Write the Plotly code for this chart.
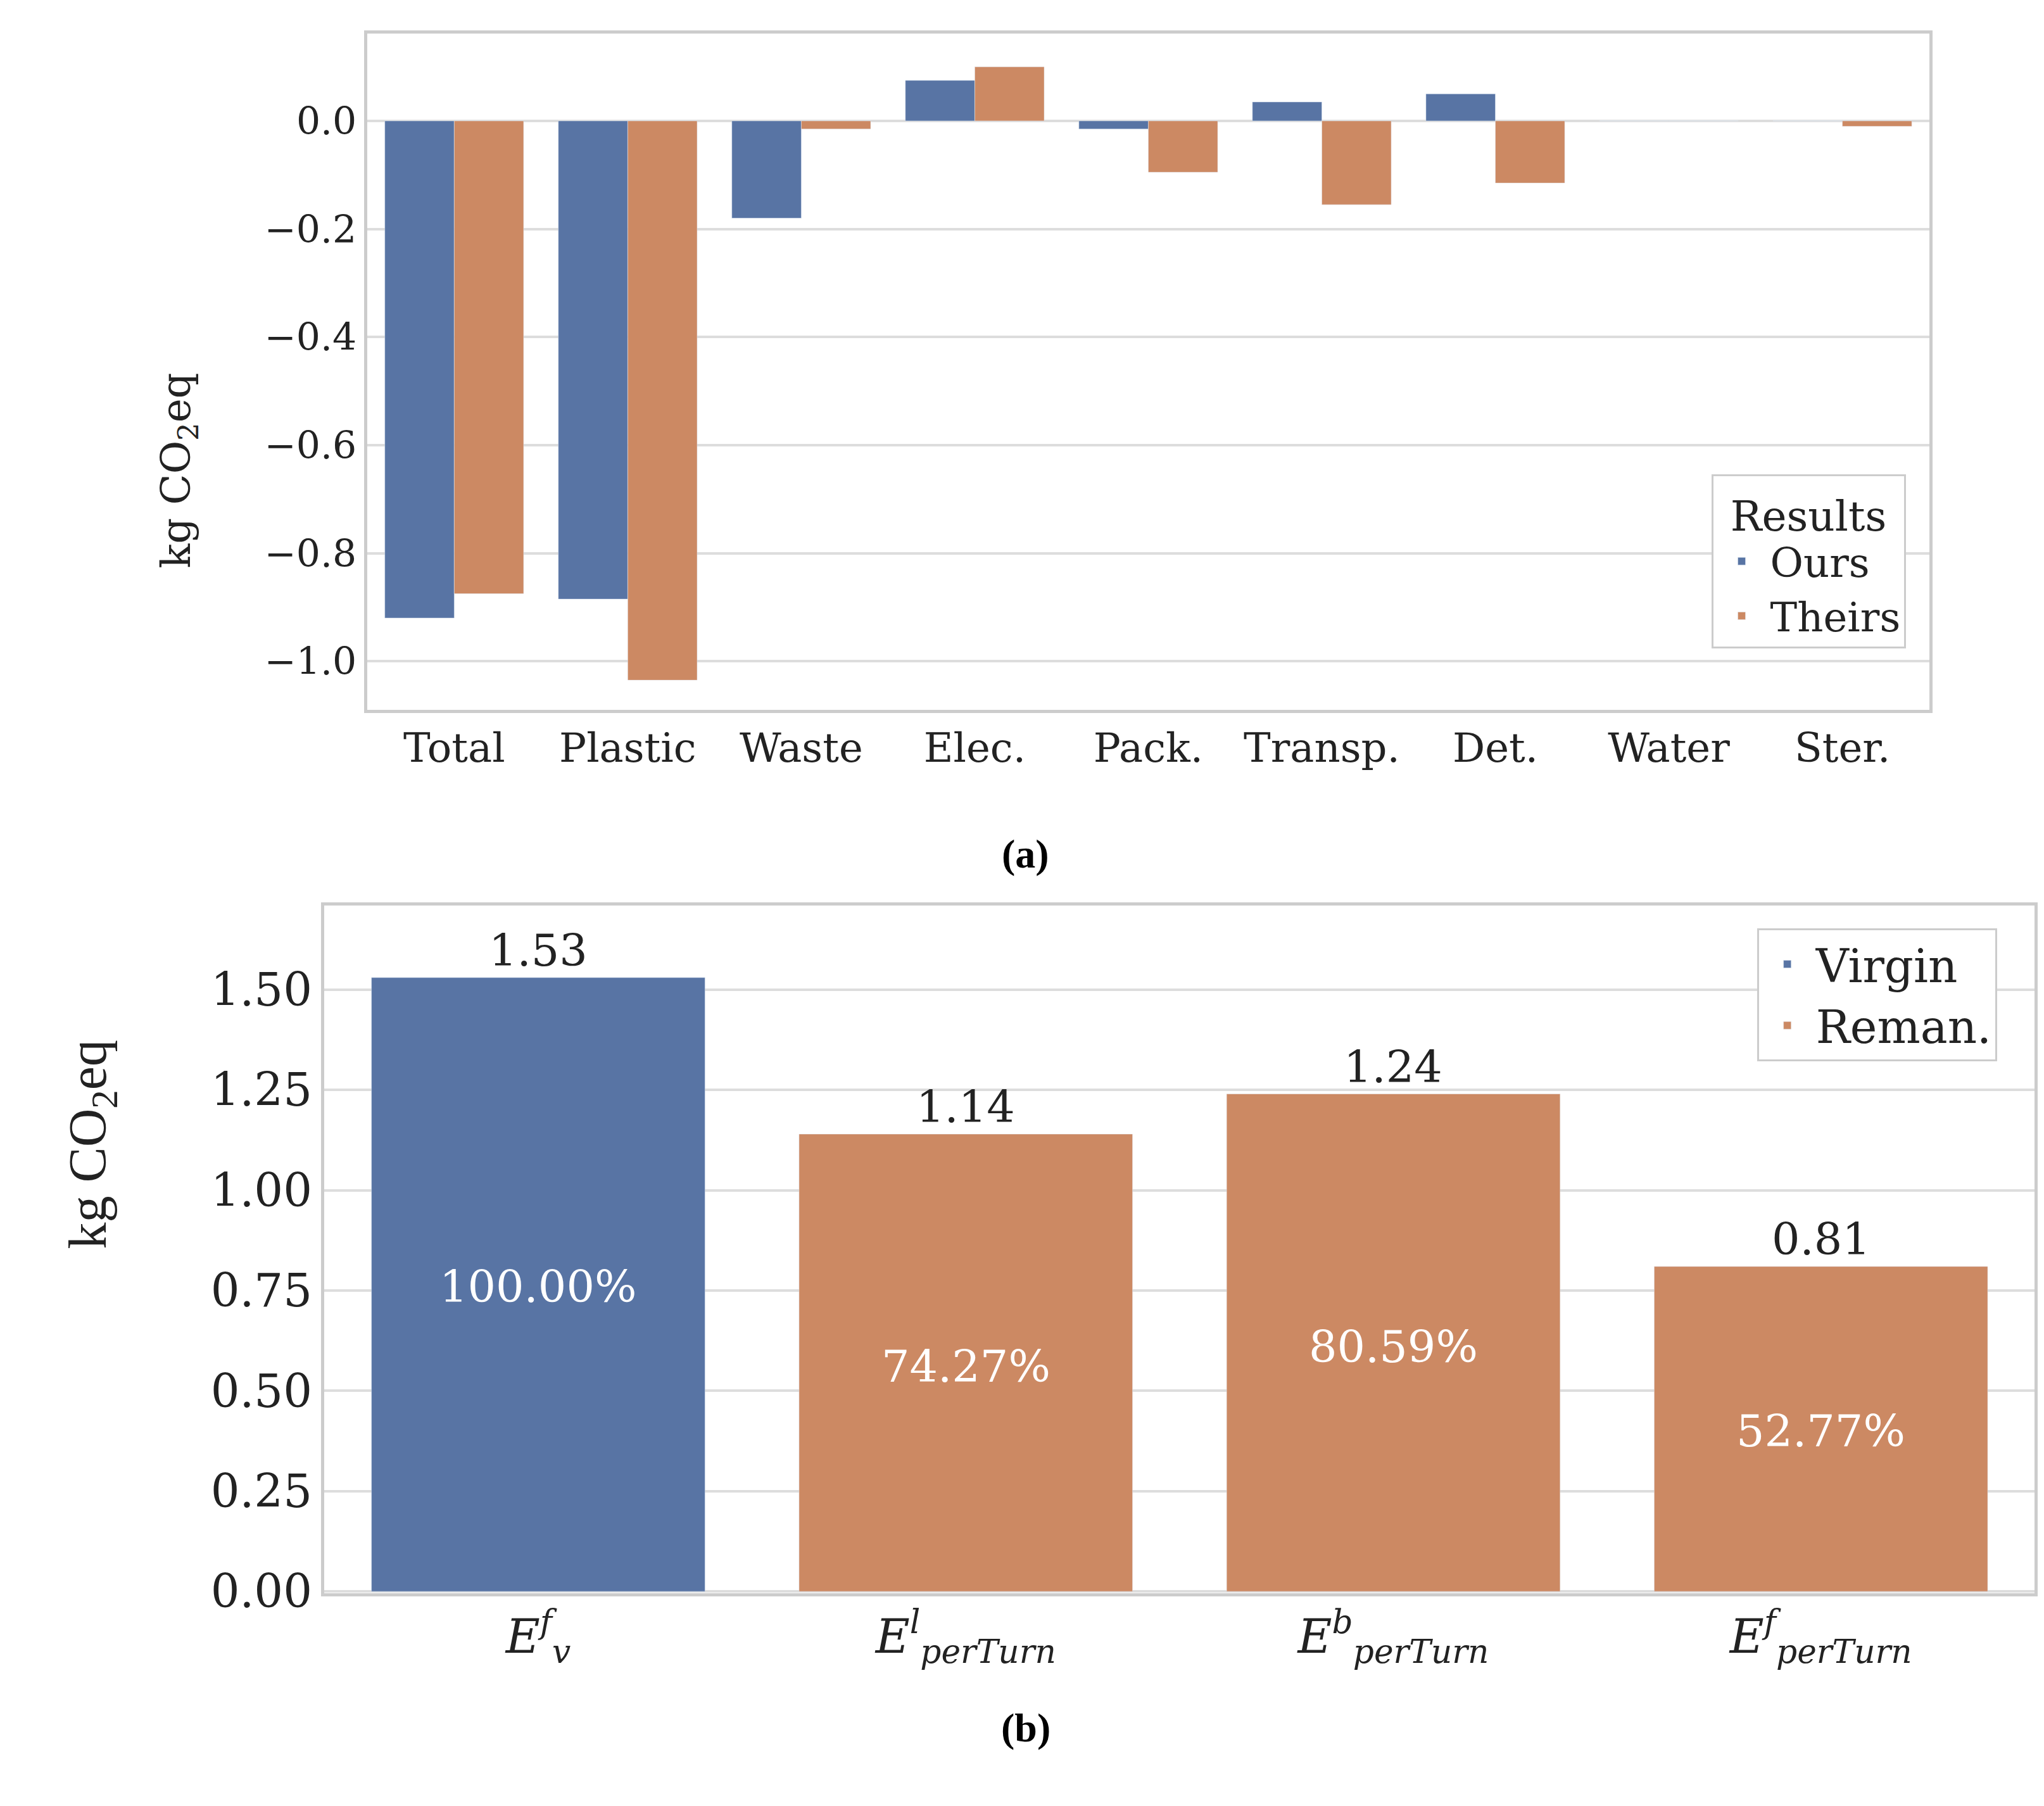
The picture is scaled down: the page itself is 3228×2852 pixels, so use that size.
import plotly.graph_objects as go

W, H = 3228, 2852

cats_a = ["Total", "Plastic", "Waste", "Elec.", "Pack.", "Transp.", "Det.", "Water", "Ster."]
ours = [-0.92, -0.885, -0.18, 0.075, -0.015, 0.035, 0.05, 0.0, 0.0]
theirs = [-0.875, -1.035, -0.015, 0.10, -0.095, -0.155, -0.115, 0.0, -0.01]
ticks_a = [0.0, -0.2, -0.4, -0.6, -0.8, -1.0]

cats_b = ["<i>E</i><sup><i>f</i></sup><sub><i>v</i></sub>",
          "<i>E</i><sup><i>l</i></sup><sub><i>perTurn</i></sub>",
          "<i>E</i><sup><i>b</i></sup><sub><i>perTurn</i></sub>",
          "<i>E</i><sup><i>f</i></sup><sub><i>perTurn</i></sub>"]
vals_b = [1.53, 1.14, 1.24, 0.81]
group_b = ["Virgin", "Reman.", "Reman.", "Reman."]
pct_b = ["100.00%", "74.27%", "80.59%", "52.77%"]
pct_y = [0.76, 0.56, 0.61, 0.40]
ticks_b = [0.0, 0.25, 0.5, 0.75, 1.0, 1.25, 1.5]

BLUE, ORANGE = "#5874A4", "#CC8963"
FONT = "DejaVu Serif"

def px(x): return x/1568
def py(y): return 1 - y/1385

fig = go.Figure()
fig.add_bar(x=cats_a, y=ours, name="Ours", marker_color=BLUE, xaxis="x", yaxis="y", legend="legend")
fig.add_bar(x=cats_a, y=theirs, name="Theirs", marker_color=ORANGE, xaxis="x", yaxis="y", legend="legend")
for g, c in [("Virgin", BLUE), ("Reman.", ORANGE)]:
    xs = [cats_b[i] for i in range(4) if group_b[i] == g]
    ys = [vals_b[i] for i in range(4) if group_b[i] == g]
    fig.add_bar(x=xs, y=ys, name=g, marker_color=c, xaxis="x2", yaxis="y2", legend="legend2", width=0.78)

ann = []
for i in range(4):
    ann.append(dict(x=cats_b[i], y=vals_b[i], xref="x2", yref="y2", text=f"{vals_b[i]:.2f}",
                    showarrow=False, yanchor="bottom", font=dict(size=70, color="#222")))
    ann.append(dict(x=cats_b[i], y=pct_y[i], xref="x2", yref="y2", text=pct_b[i],
                    showarrow=False, font=dict(size=70, color="white")))
ann.append(dict(x=px(783), y=py(660), xref="paper", yref="paper", text="<b>(a)</b>", showarrow=False,
                font=dict(family="Liberation Serif", size=64, color="black")))
ann.append(dict(x=px(783), y=py(1358), xref="paper", yref="paper", text="<b>(b)</b>", showarrow=False,
                font=dict(family="Liberation Serif", size=64, color="black")))
ann.append(dict(x=px(112), y=py(285), xref="paper", yref="paper", text="kg CO<sub>2</sub>eq", textangle=-90,
                showarrow=False, font=dict(size=64, color="#222")))
ann.append(dict(x=px(40), y=py(968), xref="paper", yref="paper", text="kg CO<sub>2</sub>eq", textangle=-90,
                showarrow=False, font=dict(family="Liberation Serif", size=84, color="#222")))

axcommon = dict(showline=True, linecolor="#cccccc", linewidth=5, mirror=True, ticks="", color="#222")
fig.update_layout(
    width=W, height=H, margin=dict(l=0, r=0, t=0, b=0),
    paper_bgcolor="white", plot_bgcolor="white",
    font=dict(family=FONT, size=60, color="#222"),
    barmode="group", bargap=0.2, bargroupgap=0.0,
    xaxis=dict(domain=[px(278), px(1476)], anchor="y", showgrid=False, tickfont=dict(size=64), **axcommon),
    yaxis=dict(domain=[py(548), py(22)], anchor="x", range=[-1.09, 0.162], tickvals=ticks_a,
               ticktext=["0.0" if t == 0 else f"\u2212{abs(t):.1f}" for t in ticks_a],
               gridcolor="#dddddd", gridwidth=4, zeroline=False, tickfont=dict(size=60), **axcommon),
    xaxis2=dict(domain=[px(245), px(1557)], anchor="y2", showgrid=False, tickfont=dict(size=74), **axcommon),
    yaxis2=dict(domain=[py(1235), py(700)], anchor="x2", range=[-0.005, 1.71], tickvals=ticks_b,
                ticktext=[f"{t:.2f}" for t in ticks_b],
                gridcolor="#dddddd", gridwidth=4, zeroline=False, tickfont=dict(size=72), **axcommon),
    legend=dict(x=px(1458), xanchor="right", y=py(365), yanchor="top", bgcolor="white",
                bordercolor="#cccccc", borderwidth=3, font=dict(size=64),
                title=dict(text="Results", side="top center", font=dict(size=66)), itemwidth=80),
    legend2=dict(x=px(1528), xanchor="right", y=py(718), yanchor="top", bgcolor="white",
                 bordercolor="#cccccc", borderwidth=3, font=dict(size=72), itemwidth=80),
    annotations=ann,
)
fig.write_html("out.html")
